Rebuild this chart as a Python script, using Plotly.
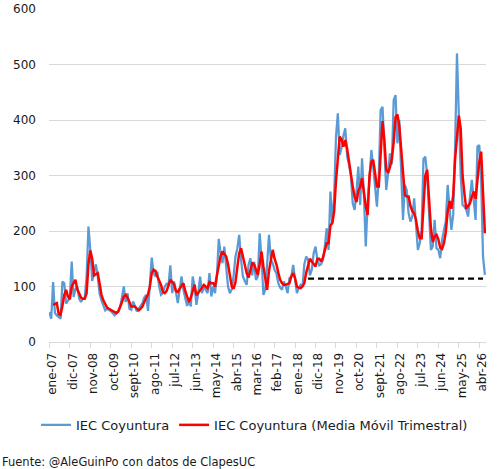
import plotly.graph_objects as go

# ---------------- data ----------------
months_es = ["ene", "feb", "mar", "abr", "may", "jun", "jul", "ago", "sept", "oct", "nov", "dic"]
start_year = 2007

tick_labels = ["ene-07", "dic-07", "nov-08", "oct-09", "sept-10", "ago-11", "jul-12", "jun-13",
               "may-14", "abr-15", "mar-16", "feb-17", "ene-18", "dic-18", "nov-19", "oct-20",
               "sept-21", "ago-22", "jul-23", "jun-24", "may-25", "abr-26"]

iec = [
    54, 42, 108, 52, 48, 44, 42, 109, 106, 69, 75, 80,
    145, 81, 95, 100, 78, 72, 78, 80, 118, 208, 166, 110,
    125, 140, 118, 87, 75, 66, 57, 60, 58, 56, 52, 48,
    52, 55, 62, 80, 100, 72, 88, 60, 58, 73, 62, 55,
    60, 64, 70, 80, 85, 56, 100, 152, 124, 118, 127, 100,
    85, 88, 100, 105, 103, 138, 88, 109, 90, 70, 94, 118,
    94, 80, 65, 73, 64, 118, 100, 67, 88, 118, 88, 100,
    95, 88, 124, 82, 100, 88, 118, 186, 160, 142, 172, 136,
    100, 88, 95, 120, 154, 169, 193, 148, 118, 110, 103, 139,
    151, 120, 145, 112, 118, 196, 150, 85, 94, 140, 193, 148,
    142, 130, 124, 106, 98, 94, 109, 100, 88, 115, 118, 139,
    112, 88, 97, 103, 100, 140, 154, 148, 120, 130, 160, 172,
    148, 138, 140, 148, 172, 205, 166, 271, 215, 260, 370, 412,
    337, 350, 372, 385, 334, 320, 300, 250, 238, 270, 316, 247,
    331, 265, 172, 250, 292, 346, 316, 274, 244, 300, 418, 424,
    346, 274, 304, 340, 320, 436, 445, 358, 400, 310, 220, 283,
    274, 232, 217, 226, 259, 211, 166, 178, 200, 330, 334, 300,
    238, 166, 172, 220, 169, 166, 151, 184, 202, 217, 283, 238,
    202, 230, 350, 520, 410, 300, 247, 244, 238, 226, 262, 292,
    256, 220, 352, 355, 292, 154, 121,
]

iec_mm3 = [
    None, None, 67, 68, 70, 50, 49, 65, 85, 94, 82, 77,
    100, 106, 112, 95, 88, 80, 78, 78, 88, 140, 165, 150,
    120, 122, 124, 105, 85, 75, 68, 62, 60, 58, 55, 53,
    52, 55, 62, 72, 82, 85, 80, 72, 64, 64, 64, 60,
    57, 60, 64, 72, 79, 86, 100, 124, 130, 128, 118, 110,
    103, 90, 88, 92, 104, 112, 108, 104, 92, 90, 96, 100,
    106, 92, 80, 72, 80, 94, 103, 84, 88, 94, 98, 103,
    100, 97, 108, 106, 106, 100, 120, 140, 155, 163, 158, 154,
    140, 120, 100, 96, 108, 135, 160, 169, 155, 138, 124, 116,
    130, 142, 140, 130, 121, 140, 163, 136, 110, 94, 128, 150,
    166, 150, 140, 125, 112, 106, 103, 103, 104, 106, 118, 124,
    115, 100, 98, 97, 100, 106, 125, 140, 150, 145, 140, 136,
    150, 150, 145, 152, 165, 178, 178, 210, 214, 235, 290, 340,
    370, 365, 352, 364, 348, 325, 300, 280, 262, 252, 272, 280,
    295, 265, 245, 229, 300, 325, 328, 304, 280, 280, 340, 398,
    364, 310, 305, 315, 330, 360, 405, 410, 390, 350, 300, 265,
    262, 262, 245, 236, 232, 220, 200, 187, 187, 240, 300, 310,
    265, 205, 180, 190, 193, 185, 170, 168, 178, 198, 235, 254,
    240, 265, 330, 364, 408, 385, 300, 268, 240, 245, 250, 262,
    271, 258, 290, 325, 343, 280, 196,
]

ref_level = 114
ref_start = "ago-18"
ref_end = "jun-26"

# category labels for each month
categories = [f"{months_es[i % 12]}-{(start_year + i // 12) % 100:02d}" for i in range(len(iec))]

# ---------------- figure ----------------
fig = go.Figure()

fig.add_trace(go.Scatter(
    x=categories, y=iec, mode="lines", name="IEC Coyuntura",
    line=dict(color="#5B9BD5", width=2.25),
))
fig.add_trace(go.Scatter(
    x=categories, y=iec_mm3, mode="lines", name="IEC Coyuntura (Media Móvil Trimestral)",
    line=dict(color="#FF0000", width=2.5),
))
fig.add_trace(go.Scatter(
    x=[ref_start, ref_end], y=[ref_level, ref_level], mode="lines", showlegend=False,
    line=dict(color="#000000", width=2.25, dash="6px,4px"),
))

fig.update_layout(
    width=499, height=469,
    margin=dict(l=49, r=13, t=9, b=127, autoexpand=False),
    paper_bgcolor="white", plot_bgcolor="white",
    font=dict(family="DejaVu Sans", size=12, color="#1a1a1a"),
    legend=dict(
        orientation="h", xref="container", yref="container",
        x=0.51, y=0.094, xanchor="center", yanchor="middle",
        itemwidth=30, font=dict(size=13), traceorder="normal",
    ),
    annotations=[dict(
        text="Fuente: @AleGuinPo con datos de ClapesUC",
        xref="paper", yref="paper", x=-0.112, y=-0.36,
        xanchor="left", yanchor="middle", showarrow=False,
        font=dict(size=11.5, color="#1a1a1a"),
    )],
)

fig.update_xaxes(
    type="category", categoryorder="array", categoryarray=categories,
    range=[-0.2, len(categories) - 0.4],
    tickmode="array", tickvals=tick_labels, ticktext=tick_labels,
    tickangle=-90, ticks="outside", ticklen=5, tickcolor="#D9D9D9",
    ticklabelshift=3,
    showline=True, linecolor="#D9D9D9", linewidth=1,
    showgrid=False, zeroline=False, automargin=False,
    tickfont=dict(size=12),
)
fig.update_yaxes(
    range=[0, 600], dtick=100, tick0=0,
    showgrid=True, gridcolor="#D9D9D9", gridwidth=1,
    zeroline=False, showline=False, ticks="", automargin=False,
    ticklabelstandoff=12, tickfont=dict(size=12),
)

fig.write_html("out.html", config={"displayModeBar": False},
               post_script="document.body.style.margin='0';")
